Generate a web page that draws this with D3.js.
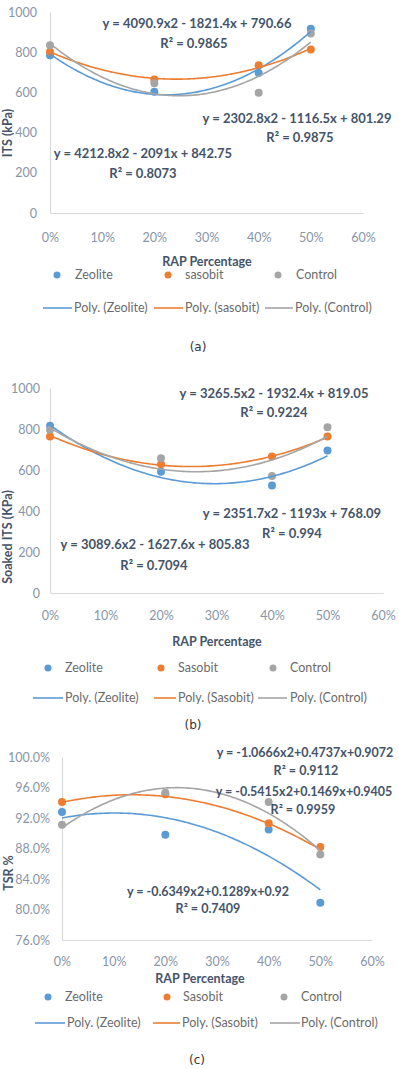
<!DOCTYPE html>
<html>
<head>
<meta charset="utf-8">
<script src="https://cdn.jsdelivr.net/npm/d3@7/dist/d3.min.js"></script>
<style>
  html, body { margin: 0; padding: 0; background: #fff; }
  svg { display: block; }
  text { font-family: Lato, "Open Sans", sans-serif; }
</style>
</head>
<body>
<svg id="chart" width="399" height="1069"></svg>
<script>
// ---- data ----
const rapLevels = [0, 0.2, 0.4, 0.5];
const xTickValues = [0, 0.1, 0.2, 0.3, 0.4, 0.5, 0.6];

// (a) ITS, kPa
const itsZeolite = [785, 603, 697, 917];
const itsSasobit = [802, 664, 735, 813];
const itsControl = [835, 645, 598, 893];
const itsFitZeolite = [4090.9, -1821.4, 790.66];
const itsFitSasobit = [2302.8, -1116.5, 801.29];
const itsFitControl = [4212.8, -2091, 842.75];
const itsEquations = ["y = 4090.9x2 - 1821.4x + 790.66", "y = 2302.8x2 - 1116.5x + 801.29", "y = 4212.8x2 - 2091x + 842.75"];
const itsR2 = ["R² = 0.9865", "R² = 0.9875", "R² = 0.8073"];
const itsTicks = [0, 200, 400, 600, 800, 1000];

// (b) soaked ITS, kPa
const soakedZeolite = [816, 592, 524, 695];
const soakedSasobit = [763, 628, 666, 763];
const soakedControl = [796, 657, 571, 809];
const soakedFitZeolite = [3265.5, -1932.4, 819.05];
const soakedFitSasobit = [2351.7, -1193, 768.09];
const soakedFitControl = [3089.6, -1627.6, 805.83];
const soakedEquations = ["y = 3265.5x2 - 1932.4x + 819.05", "y = 2351.7x2 - 1193x + 768.09", "y = 3089.6x2 - 1627.6x + 805.83"];
const soakedR2 = ["R² = 0.9224", "R² = 0.994", "R² = 0.7094"];

// (c) TSR
const tsrZeolite = [0.928, 0.898, 0.905, 0.809];
const tsrSasobit = [0.941, 0.951, 0.913, 0.882];
const tsrControl = [0.911, 0.953, 0.941, 0.872];
const tsrFitZeolite = [-0.6349, 0.1289, 0.92];
const tsrFitSasobit = [-0.5415, 0.1469, 0.9405];
const tsrFitControl = [-1.0666, 0.4737, 0.9072];
const tsrEquations = ["y = -0.6349x2+0.1289x+0.92", "y = -0.5415x2+0.1469x+0.9405", "y = -1.0666x2+0.4737x+0.9072"];
const tsrR2 = ["R² = 0.7409", "R² = 0.9959", "R² = 0.9112"];
const tsrTicks = [0.76, 0.80, 0.84, 0.88, 0.92, 0.96, 1.00];

const seriesColors = ["#5b9bd5", "#ed7d31", "#a5a5a5"];
const textDark = "#44546a";
const tickGrey = "#8895a7";

let svg = d3.select("#chart");

function drawPanel(p) {
  let g = svg.append("g");
  let x = d3.scaleLinear().domain([0, 0.6]).range(p.xRange);
  let y = d3.scaleLinear().domain(p.yDomain).range(p.yRange);

  // axes
  let yAxis = d3.axisLeft(y).tickValues(p.yTicks).tickSize(0).tickPadding(p.yPad).tickFormat(p.yFormat);
  let gy = g.append("g").attr("transform", "translate(" + p.xRange[0] + ",0)").call(yAxis);
  let xAxis = d3.axisBottom(x).tickValues(xTickValues).tickSize(0).tickPadding(p.xPad).tickFormat(d3.format(".0%"));
  let gx = g.append("g").attr("transform", "translate(0," + p.yRange[0] + ")").call(xAxis);
  [gx, gy].forEach(a => {
    a.select(".domain").attr("stroke", "#d9d9d9").attr("stroke-width", 1.2);
    a.selectAll("text").attr("fill", tickGrey).style("font-size", "12.5px").style("font-family", "Lato, sans-serif");
  });

  // points
  p.series.forEach((s, i) => {
    g.append("g").selectAll("circle").data(s)
      .join("circle")
      .attr("cx", (d, j) => x(rapLevels[j]))
      .attr("cy", d => y(d))
      .attr("r", 4)
      .attr("fill", seriesColors[i]);
  });

  // polynomial trendlines from the printed coefficients
  let xs = d3.range(0, 0.5001, 0.005);
  let line = d3.line().x(d => x(d[0])).y(d => y(d[1])).curve(d3.curveBasis);
  p.fits.forEach((c, i) => {
    g.append("path")
      .datum(xs.map(v => [v, c[0] * v * v + c[1] * v + c[2]]))
      .attr("d", line)
      .attr("fill", "none")
      .attr("stroke", seriesColors[i])
      .attr("stroke-width", 1.6);
  });

  // equation labels
  p.eqPos.forEach((pos, i) => {
    g.append("text").attr("x", pos[0]).attr("y", pos[1]).attr("dy", "0.35em")
      .attr("text-anchor", "middle").attr("fill", textDark)
      .style("font-size", p.eqSize).style("font-weight", "bold")
      .text(p.equations[i]);
    g.append("text").attr("x", pos[2]).attr("y", pos[3]).attr("dy", "0.35em")
      .attr("text-anchor", "middle").attr("fill", textDark)
      .style("font-size", p.eqSize).style("font-weight", "bold")
      .text(p.r2[i]);
  });

  // axis titles
  g.append("text")
    .attr("transform", "translate(" + p.yTitlePos[0] + "," + p.yTitlePos[1] + ") rotate(-90)")
    .attr("dy", "0.35em").attr("text-anchor", "middle").attr("fill", textDark)
    .style("font-size", "12.5px").style("font-weight", "bold")
    .text(p.yTitle);
  g.append("text").attr("x", p.xTitlePos[0]).attr("y", p.xTitlePos[1]).attr("dy", "0.35em")
    .attr("text-anchor", "middle").attr("fill", textDark)
    .style("font-size", "12.5px").style("font-weight", "bold")
    .text("RAP Percentage");

  // legend
  p.names.forEach((name, i) => {
    g.append("circle").attr("cx", p.legDots[i]).attr("cy", p.legY[0]).attr("r", 3.5).attr("fill", seriesColors[i]);
    g.append("text").attr("x", p.legText1[i]).attr("y", p.legY[0]).attr("dy", "0.35em")
      .attr("fill", "#6b6b6b").style("font-size", "12.5px").text(name);
    g.append("line").attr("x1", p.legLines[i][0]).attr("x2", p.legLines[i][1])
      .attr("y1", p.legY[1]).attr("y2", p.legY[1])
      .attr("stroke", seriesColors[i]).attr("stroke-width", 1.6);
    g.append("text").attr("x", p.legText2[i]).attr("y", p.legY[1]).attr("dy", "0.35em")
      .attr("fill", "#6b6b6b").style("font-size", "12.5px").text("Poly. (" + name + ")");
  });

  // caption
  g.append("text").attr("x", p.captionPos[0]).attr("y", p.captionPos[1]).attr("dy", "0.35em")
    .attr("text-anchor", "middle").attr("fill", "#333")
    .style("font-size", "12px").style("font-family", "DejaVu Sans, sans-serif")
    .text(p.caption);
}

drawPanel({
  xRange: [50, 363], yRange: [213, 12], yDomain: [0, 1000], yTicks: itsTicks,
  yFormat: d3.format("d"), yPad: 13, xPad: 20,
  series: [itsZeolite, itsSasobit, itsControl],
  fits: [itsFitZeolite, itsFitSasobit, itsFitControl],
  equations: itsEquations, r2: itsR2, eqSize: "13px",
  eqPos: [[197, 23, 194, 43], [297, 118, 300, 137], [143, 153, 143, 173]],
  yTitle: "ITS (kPa)", yTitlePos: [8, 133], xTitlePos: [207, 262],
  names: ["Zeolite", "sasobit", "Control"],
  legY: [275, 308], legDots: [57, 168, 278], legText1: [75, 185, 296],
  legLines: [[43, 72], [154, 183], [265, 293]], legText2: [74, 185, 295],
  caption: "(a)", captionPos: [198, 347]
});

drawPanel({
  xRange: [50, 383], yRange: [593, 388], yDomain: [0, 1000], yTicks: itsTicks,
  yFormat: d3.format("d"), yPad: 10, xPad: 18,
  series: [soakedZeolite, soakedSasobit, soakedControl],
  fits: [soakedFitZeolite, soakedFitSasobit, soakedFitControl],
  equations: soakedEquations, r2: soakedR2, eqSize: "13px",
  eqPos: [[274, 393, 274, 412], [292, 513, 292, 533], [155, 544, 154, 565]],
  yTitle: "Soaked ITS (KPa)", yTitlePos: [8, 537], xTitlePos: [217, 642],
  names: ["Zeolite", "Sasobit", "Control"],
  legY: [668, 698], legDots: [48, 161, 273], legText1: [65, 178, 290],
  legLines: [[33, 63], [154, 176], [258, 287]], legText2: [65, 178, 290],
  caption: "(b)", captionPos: [193, 725]
});

drawPanel({
  xRange: [62, 372], yRange: [940, 757], yDomain: [0.76, 1.0], yTicks: tsrTicks,
  yFormat: d3.format(".1%"), yPad: 12, xPad: 17,
  series: [tsrZeolite, tsrSasobit, tsrControl],
  fits: [tsrFitZeolite, tsrFitSasobit, tsrFitControl],
  equations: tsrEquations, r2: tsrR2, eqSize: "12.5px",
  eqPos: [[208, 892, 208, 909], [304, 792, 303, 810], [305, 753, 306, 771]],
  yTitle: "TSR %", yTitlePos: [9, 873], xTitlePos: [200, 979],
  names: ["Zeolite", "Sasobit", "Control"],
  legY: [997, 1023], legDots: [48, 167, 284], legText1: [65, 183, 301],
  legLines: [[35, 65], [153, 180], [270, 300]], legText2: [67, 182, 301],
  caption: "(c)", captionPos: [197, 1060]
});
</script>
</body>
</html>
